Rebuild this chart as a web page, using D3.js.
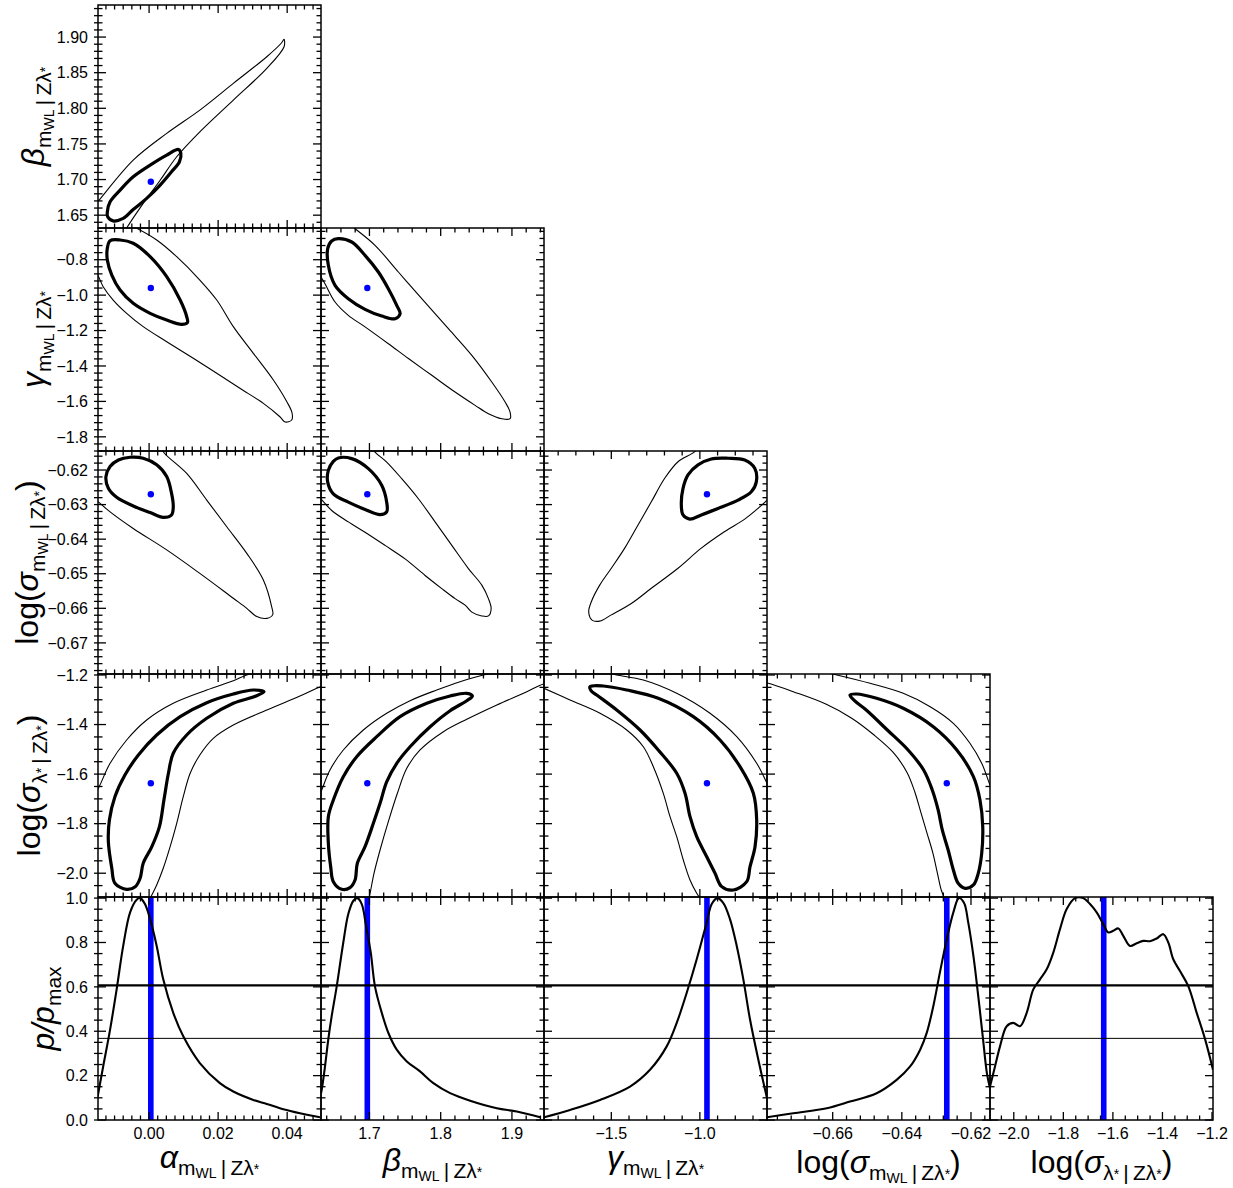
<!DOCTYPE html>
<html><head><meta charset="utf-8">
<script src="https://cdn.jsdelivr.net/npm/d3@7"></script>
<style>body{margin:0;background:#fff}svg{display:block}text{font-family:"Liberation Sans",Arial,sans-serif}</style>
</head><body>
<script>
// ---------- axis ranges ----------
const domA = [-0.0148, 0.0498];
const domB = [1.632, 1.945];
const domG = [-1.88, -0.621];
const domSM = [-0.679, -0.6145];
const domSL = [-2.096, -1.196];
const domP = [0, 1.005];

// ---------- true values (blue) ----------
const trueValues = [0.0005, 1.697, -0.96, -0.627, -1.637];
// likelihood levels for 1D panels
const levels = [0.6065, 0.3679];

// ---------- ticks ----------
const xTicksA = [0, 0.02, 0.04], xTickTextA = ["0.00", "0.02", "0.04"];
const xTicksB = [1.7, 1.8, 1.9], xTickTextB = ["1.7", "1.8", "1.9"];
const xTicksG = [-1.5, -1.0], xTickTextG = ["\u22121.5", "\u22121.0"];
const xTicksSM = [-0.66, -0.64, -0.62], xTickTextSM = ["\u22120.66", "\u22120.64", "\u22120.62"];
const xTicksSL = [-2.0, -1.8, -1.6, -1.4, -1.2], xTickTextSL = ["\u22122.0", "\u22121.8", "\u22121.6", "\u22121.4", "\u22121.2"];
const yTicksB = [1.65, 1.70, 1.75, 1.80, 1.85, 1.90], yTickTextB = ["1.65", "1.70", "1.75", "1.80", "1.85", "1.90"];
const yTicksG = [-0.8, -1.0, -1.2, -1.4, -1.6, -1.8], yTickTextG = ["\u22120.8", "\u22121.0", "\u22121.2", "\u22121.4", "\u22121.6", "\u22121.8"];
const yTicksSM = [-0.62, -0.63, -0.64, -0.65, -0.66, -0.67], yTickTextSM = ["\u22120.62", "\u22120.63", "\u22120.64", "\u22120.65", "\u22120.66", "\u22120.67"];
const yTicksSL = [-1.2, -1.4, -1.6, -1.8, -2.0], yTickTextSL = ["\u22121.2", "\u22121.4", "\u22121.6", "\u22121.8", "\u22122.0"];
const yTicksP = [0, 0.2, 0.4, 0.6, 0.8, 1.0], yTickTextP = ["0.0", "0.2", "0.4", "0.6", "0.8", "1.0"];
const xMinorSteps = [0.0025, 0.02, 0.1, 0.004, 0.05];
const yMinorSteps = [0.01, 0.04, 0.002, 0.05, 0.05];

// ---------- 2D contours (x, y) ----------
// beta vs alpha
const cBA_in = [[-0.0121,1.6547],[-0.0113,1.6687],[-0.0084,1.6852],[-0.0046,1.7039],[0.0003,1.7203],[0.0051,1.7343],[0.0085,1.7423],[0.0092,1.7367],[0.0088,1.725],[0.0065,1.7109],[0.0032,1.6922],[-0.0007,1.6735],[-0.0046,1.658],[-0.0075,1.6454],[-0.0104,1.642],[-0.012,1.6477]];
const cBA_out = [[-0.017,1.657],[-0.0149,1.6687],[-0.0046,1.7273],[0.0051,1.7648],[0.0147,1.7975],[0.0244,1.835],[0.0341,1.8724],[0.0384,1.892],[0.0391,1.8968],[0.0391,1.8864],[0.0341,1.856],[0.0244,1.8116],[0.0147,1.767],[0.0080,1.732],[0.0032,1.699],[-0.0017,1.6665],[-0.0065,1.632],[-0.0080,1.620]];
// gamma vs alpha
const cGA_in = [[-0.0113,-0.6927],[-0.0084,-0.6888],[-0.0046,-0.7074],[0.0003,-0.783],[0.0051,-0.896],[0.0090,-1.0276],[0.0109,-1.122],[0.0111,-1.1557],[0.0094,-1.1648],[0.0051,-1.1405],[0.0003,-1.1027],[-0.0046,-1.0462],[-0.0084,-0.971],[-0.0108,-0.8864],[-0.0121,-0.8017],[-0.0121,-0.7356]];
const cGA_out = [[-0.0062,-0.60],[-0.0036,-0.6227],[0.0022,-0.6888],[0.0080,-0.783],[0.0147,-0.9146],[0.0196,-1.0276],[0.0244,-1.178],[0.0302,-1.3285],[0.0360,-1.4793],[0.0399,-1.6018],[0.0414,-1.664],[0.0413,-1.7051],[0.0394,-1.7164],[0.0379,-1.6865],[0.0331,-1.6109],[0.0263,-1.5262],[0.0196,-1.4415],[0.0128,-1.3568],[0.0051,-1.263],[-0.0017,-1.178],[-0.0065,-1.1027],[-0.0104,-1.0276],[-0.0133,-0.9524],[-0.0149,-0.8864],[-0.017,-0.84]];
// sigma_m vs alpha
const cSA_in = [[-0.0055,-0.6163],[-0.0017,-0.6166],[0.0022,-0.6185],[0.0051,-0.6219],[0.0065,-0.6267],[0.0070,-0.6306],[0.0065,-0.633],[0.0041,-0.6337],[0.0003,-0.6323],[-0.0046,-0.6304],[-0.0094,-0.6279],[-0.0118,-0.6253],[-0.0125,-0.6219],[-0.0113,-0.619],[-0.0089,-0.6171]];
const cSA_out = [[0.0030,-0.612],[0.0041,-0.6147],[0.0109,-0.621],[0.0167,-0.6287],[0.0225,-0.6364],[0.0283,-0.6441],[0.0331,-0.6518],[0.0355,-0.6595],[0.0358,-0.6619],[0.0341,-0.6629],[0.0312,-0.6624],[0.0283,-0.66],[0.0244,-0.6571],[0.0147,-0.6499],[0.0051,-0.6431],[-0.0046,-0.6369],[-0.0113,-0.6321],[-0.0147,-0.6292],[-0.017,-0.6275]];
// sigma_lambda vs alpha
const cLA_in = [[-0.0065,-2.0649],[-0.0099,-2.0407],[-0.0108,-1.98],[-0.0118,-1.8727],[-0.0115,-1.785],[-0.0099,-1.6912],[-0.007,-1.6036],[-0.0031,-1.5229],[0.0022,-1.4422],[0.0090,-1.3683],[0.0167,-1.3118],[0.0244,-1.2767],[0.0302,-1.2606],[0.0333,-1.2674],[0.031,-1.2848],[0.0244,-1.3142],[0.0167,-1.3748],[0.0109,-1.4422],[0.0070,-1.516],[0.0056,-1.5967],[0.0043,-1.7045],[0.0030,-1.8122],[0.0008,-1.8929],[-0.0017,-1.9598],[-0.0026,-2.0203],[-0.004,-2.0542]];
const cLA_outA = [[-0.017,-1.71],[-0.0147,-1.6573],[-0.0113,-1.5564],[-0.0065,-1.4623],[-0.0007,-1.3816],[0.0070,-1.3142],[0.0167,-1.2606],[0.0244,-1.223],[0.0283,-1.2],[0.032,-1.185]];
const cLA_outB = [[0.052,-1.238],[0.0497,-1.2472],[0.0437,-1.2848],[0.0341,-1.3413],[0.0244,-1.4018],[0.0186,-1.4556],[0.0147,-1.5229],[0.0119,-1.5967],[0.0099,-1.6912],[0.0080,-1.7985],[0.0061,-1.8929],[0.0041,-1.98],[0.0022,-2.0475],[0.0008,-2.0878],[0.0,-2.11]];
// gamma vs beta
const cGB_in = [[1.6563,-0.6814],[1.6751,-0.7001],[1.6938,-0.7752],[1.7125,-0.8694],[1.7265,-0.9637],[1.7383,-1.0575],[1.743,-1.105],[1.7359,-1.1331],[1.7173,-1.1179],[1.6938,-1.08],[1.6703,-1.0202],[1.6517,-0.9446],[1.6423,-0.8316],[1.6414,-0.7379],[1.647,-0.6944]];
const cGB_out = [[1.672,-0.60],[1.6798,-0.625],[1.7078,-0.7187],[1.7406,-0.8694],[1.7734,-1.0202],[1.8108,-1.1896],[1.8437,-1.3398],[1.8717,-1.4906],[1.8904,-1.6035],[1.8974,-1.66],[1.8974,-1.6978],[1.8858,-1.6978],[1.867,-1.6695],[1.8483,-1.6222],[1.8202,-1.5471],[1.7875,-1.4527],[1.7547,-1.358],[1.7266,-1.2743],[1.6938,-1.179],[1.6703,-1.1139],[1.6517,-1.0388],[1.6376,-0.9355],[1.632,-0.8977],[1.626,-0.87]];
// sigma_m vs beta
const cSB_in = [[1.6563,-0.6165],[1.6751,-0.6167],[1.6985,-0.6196],[1.7172,-0.6244],[1.7242,-0.6293],[1.7242,-0.6321],[1.7149,-0.6329],[1.6938,-0.6314],[1.6703,-0.6293],[1.6493,-0.6269],[1.6414,-0.6235],[1.6423,-0.6201],[1.6493,-0.6175]];
const cSB_out = [[1.70,-0.6125],[1.7078,-0.6148],[1.7242,-0.6177],[1.7453,-0.6225],[1.7687,-0.6283],[1.7921,-0.635],[1.8156,-0.6418],[1.8389,-0.6485],[1.8577,-0.6533],[1.867,-0.6572],[1.8708,-0.6601],[1.867,-0.6622],[1.8577,-0.6622],[1.8437,-0.6611],[1.8343,-0.6591],[1.8202,-0.6572],[1.8015,-0.6543],[1.7781,-0.6505],[1.75,-0.6457],[1.7219,-0.6418],[1.6938,-0.638],[1.6703,-0.635],[1.647,-0.6317],[1.6338,-0.6288],[1.625,-0.627]];
// sigma_lambda vs beta
const cLB_in = [[1.6611,-2.0649],[1.6493,-2.0342],[1.6456,-1.9736],[1.6423,-1.8792],[1.6423,-1.7719],[1.6493,-1.7045],[1.6633,-1.6104],[1.6821,-1.5297],[1.7102,-1.449],[1.743,-1.3683],[1.7805,-1.3142],[1.8132,-1.2848],[1.8366,-1.2739],[1.8445,-1.2848],[1.8366,-1.3038],[1.8132,-1.3441],[1.7852,-1.4087],[1.757,-1.4894],[1.7383,-1.5564],[1.7243,-1.6306],[1.7149,-1.7178],[1.7055,-1.7985],[1.6938,-1.8929],[1.683,-1.9598],[1.6798,-2.0273],[1.6727,-2.0582]];
const cLB_outA = [[1.628,-1.70],[1.633,-1.6641],[1.6446,-1.5834],[1.6633,-1.5027],[1.6914,-1.422],[1.7242,-1.3546],[1.757,-1.3037],[1.7945,-1.2606],[1.8272,-1.227],[1.86,-1.2],[1.88,-1.19]];
const cLB_outB = [[1.955,-1.23],[1.9442,-1.2364],[1.9209,-1.2674],[1.8788,-1.3211],[1.8366,-1.3788],[1.8038,-1.4288],[1.771,-1.5027],[1.7524,-1.5766],[1.7392,-1.6775],[1.7265,-1.792],[1.7149,-1.9063],[1.7064,-2.0005],[1.7018,-2.0677],[1.6998,-2.097],[1.699,-2.11]];
// sigma_m vs gamma
const cSG_in = [[-0.841,-0.6166],[-0.7468,-0.6171],[-0.6903,-0.6195],[-0.6812,-0.6234],[-0.7095,-0.6263],[-0.7846,-0.6287],[-0.8975,-0.6311],[-0.9918,-0.633],[-1.0573,-0.6342],[-1.0951,-0.633],[-1.1047,-0.6301],[-1.0951,-0.6253],[-1.0669,-0.6214],[-1.0104,-0.6185],[-0.9353,-0.6168]];
const cSG_out = [[-1.00,-0.6125],[-1.0291,-0.6147],[-1.1234,-0.6176],[-1.1985,-0.6224],[-1.2741,-0.6292],[-1.3492,-0.6359],[-1.4243,-0.6426],[-1.4999,-0.6484],[-1.5655,-0.6533],[-1.6128,-0.6581],[-1.6276,-0.661],[-1.609,-0.6634],[-1.5655,-0.6637],[-1.4999,-0.6619],[-1.3871,-0.6586],[-1.2741,-0.6542],[-1.1234,-0.6484],[-0.9918,-0.6426],[-0.8597,-0.6378],[-0.7468,-0.6342],[-0.6716,-0.6311],[-0.6208,-0.6287],[-0.59,-0.627]];
// sigma_lambda vs gamma
const cLG_in = [[-1.6203,-1.2472],[-1.5452,-1.2444],[-1.413,-1.2606],[-1.235,-1.294],[-1.037,-1.3683],[-0.8862,-1.4623],[-0.7733,-1.5701],[-0.6981,-1.6775],[-0.6793,-1.7852],[-0.6886,-1.8929],[-0.7168,-1.9736],[-0.7356,-2.0342],[-0.8109,-2.0677],[-0.8766,-2.0542],[-0.9144,-2.0005],[-0.9613,-1.9332],[-1.0178,-1.8525],[-1.0556,-1.7719],[-1.0838,-1.6775],[-1.1307,-1.5967],[-1.235,-1.5027],[-1.3379,-1.422],[-1.4695,-1.3413],[-1.5824,-1.2808],[-1.6146,-1.2634]];
const cLG_outA = [[-1.53,-1.19],[-1.4695,-1.2],[-1.3193,-1.2202],[-1.1307,-1.2739],[-0.9427,-1.3546],[-0.7919,-1.449],[-0.6793,-1.5564],[-0.6208,-1.6371],[-0.60,-1.67]];
const cLG_outB = [[-1.92,-1.24],[-1.88,-1.2537],[-1.7332,-1.3009],[-1.5638,-1.3546],[-1.413,-1.422],[-1.3193,-1.4894],[-1.2628,-1.5701],[-1.2064,-1.6775],[-1.1685,-1.7719],[-1.1307,-1.8525],[-1.0934,-1.9466],[-1.0556,-2.0273],[-1.0178,-2.081],[-0.9991,-2.1012],[-0.99,-2.115]];
// sigma_lambda vs sigma_m
const cLS_in = [[-0.655,-1.2808],[-0.6531,-1.2767],[-0.6473,-1.2941],[-0.6396,-1.3344],[-0.6309,-1.4087],[-0.6241,-1.5027],[-0.6193,-1.6104],[-0.6174,-1.7045],[-0.6166,-1.8122],[-0.6169,-1.9198],[-0.6179,-2.0005],[-0.6193,-2.0475],[-0.6217,-2.0609],[-0.6237,-2.0407],[-0.6251,-1.987],[-0.6266,-1.9063],[-0.6283,-1.8255],[-0.6295,-1.7448],[-0.6312,-1.6641],[-0.6337,-1.5834],[-0.6382,-1.5027],[-0.6442,-1.422],[-0.6503,-1.3413],[-0.6537,-1.3037]];
const cLS_outA = [[-0.662,-1.19],[-0.6588,-1.2],[-0.6492,-1.2335],[-0.6396,-1.2739],[-0.6318,-1.328],[-0.6251,-1.395],[-0.6203,-1.4757],[-0.6169,-1.5564],[-0.6145,-1.644],[-0.613,-1.69]];
const cLS_outB = [[-0.681,-1.227],[-0.6786,-1.2335],[-0.6714,-1.2674],[-0.662,-1.3172],[-0.6545,-1.3743],[-0.6482,-1.4403],[-0.6425,-1.5127],[-0.6385,-1.5934],[-0.6362,-1.6741],[-0.6345,-1.7548],[-0.6327,-1.839],[-0.631,-1.9198],[-0.6297,-2.0005],[-0.6286,-2.0677],[-0.6276,-2.1012],[-0.627,-2.115]];

// ---------- 1D marginals (x, p/pmax) ----------
const margA = [[-0.0149,0.1055],[-0.0133,0.2413],[-0.0113,0.4074],[-0.0094,0.5885],[-0.0075,0.7845],[-0.0055,0.9357],[-0.0036,0.9928],[-0.0026,1.0],[-0.0012,0.9733],[0.0003,0.9054],[0.0022,0.7845],[0.0041,0.6338],[0.007,0.483],[0.0099,0.3771],[0.0147,0.2567],[0.0205,0.1661],[0.0244,0.1283],[0.0302,0.0905],[0.0341,0.0724],[0.0389,0.0484],[0.0437,0.0303],[0.0495,0.0122]];
const margB = [[1.632,0.12],[1.633,0.136],[1.6376,0.241],[1.6423,0.365],[1.647,0.468],[1.654,0.601],[1.6633,0.80],[1.6703,0.928],[1.6774,0.988],[1.683,1.0],[1.6892,0.973],[1.6952,0.875],[1.7018,0.755],[1.7078,0.601],[1.7173,0.483],[1.7266,0.392],[1.7383,0.317],[1.7524,0.264],[1.771,0.219],[1.7897,0.166],[1.8132,0.121],[1.8413,0.087],[1.8788,0.053],[1.9068,0.038],[1.9396,0.012]];
const margG = [[-1.88,0.0122],[-1.7332,0.0453],[-1.5638,0.0905],[-1.3944,0.1507],[-1.2815,0.2263],[-1.1872,0.3318],[-1.1307,0.4377],[-1.0742,0.5736],[-1.0178,0.7243],[-0.9613,0.8905],[-0.9331,0.9733],[-0.9014,1.0],[-0.8675,0.9778],[-0.83,0.9054],[-0.7919,0.7845],[-0.7546,0.6338],[-0.7168,0.4527],[-0.6699,0.2716],[-0.6208,0.0982]];
const margSM = [[-0.679,0.0122],[-0.6714,0.0303],[-0.6617,0.053],[-0.655,0.083],[-0.6473,0.1207],[-0.6415,0.1811],[-0.6376,0.2413],[-0.6347,0.3169],[-0.6328,0.3925],[-0.6309,0.5129],[-0.629,0.6641],[-0.627,0.8149],[-0.6251,0.9357],[-0.6235,1.0],[-0.622,0.9778],[-0.6208,0.8905],[-0.6193,0.7393],[-0.6179,0.5582],[-0.6166,0.3771],[-0.6154,0.2114],[-0.6145,0.1435]];
const margSL = [[-2.096,0.1507],[-2.0758,0.2413],[-2.0556,0.3318],[-2.0286,0.4224],[-2.002,0.4377],[-1.9749,0.4224],[-1.9479,0.483],[-1.9213,0.5885],[-1.8942,0.6338],[-1.8672,0.679],[-1.8405,0.7546],[-1.8135,0.8601],[-1.7865,0.9507],[-1.753,1.0],[-1.7195,1.0],[-1.6924,0.9733],[-1.6654,0.9357],[-1.6388,0.8828],[-1.6186,0.8452],[-1.5984,0.8525],[-1.5782,0.8633],[-1.5581,0.8298],[-1.531,0.7845],[-1.504,0.7967],[-1.4774,0.8072],[-1.4503,0.8058],[-1.4233,0.818],[-1.3966,0.8375],[-1.3764,0.7999],[-1.3563,0.7243],[-1.3293,0.6713],[-1.2958,0.6034],[-1.2618,0.483],[-1.2275,0.3622],[-1.196,0.2263]];

// ---------- build ----------
const W = 1233, H = 1188, X0 = 98, Y0 = 5, S = 223;
const domains = [domA, domB, domG, domSM, domSL];
const xTicks = [[xTicksA, xTickTextA], [xTicksB, xTickTextB], [xTicksG, xTickTextG], [xTicksSM, xTickTextSM], [xTicksSL, xTickTextSL]];
const yTicks = [[yTicksB, yTickTextB], [yTicksG, yTickTextG], [yTicksSM, yTickTextSM], [yTicksSL, yTickTextSL], [yTicksP, yTickTextP]];
const yDomains = [domB, domG, domSM, domSL, domP];

const xs = domains.map((d, c) => d3.scaleLinear().domain(d).range([X0 + c * S, X0 + (c + 1) * S]));
const ys = yDomains.map((d, r) => d3.scaleLinear().domain(d).range([Y0 + (r + 1) * S, Y0 + r * S]));

const panels2D = [
  {r: 0, c: 0, inner: cBA_in, outer: [cBA_out]},
  {r: 1, c: 0, inner: cGA_in, outer: [cGA_out]},
  {r: 1, c: 1, inner: cGB_in, outer: [cGB_out]},
  {r: 2, c: 0, inner: cSA_in, outer: [cSA_out]},
  {r: 2, c: 1, inner: cSB_in, outer: [cSB_out]},
  {r: 2, c: 2, inner: cSG_in, outer: [cSG_out]},
  {r: 3, c: 0, inner: cLA_in, outer: [cLA_outA, cLA_outB]},
  {r: 3, c: 1, inner: cLB_in, outer: [cLB_outA, cLB_outB]},
  {r: 3, c: 2, inner: cLG_in, outer: [cLG_outA, cLG_outB]},
  {r: 3, c: 3, inner: cLS_in, outer: [cLS_outA, cLS_outB]}
];
const margs = [margA, margB, margG, margSM, margSL];

const svg = d3.select("body").append("svg").attr("width", W).attr("height", H);
const defs = svg.append("defs");
const allPanels = [];
for (let r = 0; r < 5; r++) for (let c = 0; c <= r; c++) allPanels.push({r, c});
allPanels.forEach(p => {
  defs.append("clipPath").attr("id", `clip${p.r}${p.c}`)
    .append("rect").attr("x", X0 + p.c * S).attr("y", Y0 + p.r * S).attr("width", S).attr("height", S);
});

const lineGen = (x, y, curve) => d3.line().x(d => x(d[0])).y(d => y(d[1])).curve(curve);

// 2D panels
panels2D.forEach(p => {
  const x = xs[p.c], y = ys[p.r];
  const g = svg.append("g").attr("clip-path", `url(#clip${p.r}${p.c})`);
  p.outer.forEach(seg => {
    g.append("path").attr("d", lineGen(x, y, d3.curveCatmullRom.alpha(0.5))(seg))
      .attr("fill", "none").attr("stroke", "#000").attr("stroke-width", 1.1);
  });
  g.append("path").attr("d", lineGen(x, y, d3.curveCatmullRomClosed.alpha(0.5))(p.inner))
    .attr("fill", "none").attr("stroke", "#000").attr("stroke-width", 3.2).attr("stroke-linejoin", "round");
  g.append("circle").attr("cx", x(trueValues[p.c])).attr("cy", y(trueValues[p.r + 1])).attr("r", 3.2).attr("fill", "#0000ff");
});

// 1D panels
const yP = ys[4];
margs.forEach((m, c) => {
  const x = xs[c];
  const g = svg.append("g").attr("clip-path", `url(#clip4${c})`);
  g.append("rect").attr("x", x(trueValues[c]) - 2.8).attr("y", Y0 + 4 * S).attr("width", 5.6).attr("height", S).attr("fill", "#0000ff");
  g.append("path").attr("d", lineGen(x, yP, d3.curveCatmullRom.alpha(0.5))(m))
    .attr("fill", "none").attr("stroke", "#000").attr("stroke-width", 2.1);
});
svg.append("line").attr("x1", X0).attr("x2", X0 + 5 * S).attr("y1", yP(levels[0])).attr("y2", yP(levels[0])).attr("stroke", "#000").attr("stroke-width", 2.2);
svg.append("line").attr("x1", X0).attr("x2", X0 + 5 * S).attr("y1", yP(levels[1])).attr("y2", yP(levels[1])).attr("stroke", "#000").attr("stroke-width", 1);

// frames and ticks
function minorVals(dom, step, majors) {
  const lo = Math.min(dom[0], dom[1]), hi = Math.max(dom[0], dom[1]);
  const out = [];
  for (let k = Math.ceil(lo / step - 1e-6); k * step <= hi + 1e-9; k++) {
    const v = k * step;
    if (!majors.some(m => Math.abs(m - v) < step * 0.1)) out.push(v);
  }
  return out;
}
const MAJ = 8, MIN = 4.5;
allPanels.forEach(p => {
  const x = xs[p.c], y = ys[p.r];
  const x0 = X0 + p.c * S, x1 = x0 + S, y0 = Y0 + p.r * S, y1 = y0 + S;
  const g = svg.append("g").attr("stroke", "#000").attr("stroke-width", 1.3);
  const xm = xTicks[p.c][0], xn = minorVals(domains[p.c], xMinorSteps[p.c], xm);
  const ym = yTicks[p.r][0], yn = minorVals(yDomains[p.r], yMinorSteps[p.r], ym);
  const tk = (vals, len) => {
    vals.forEach(v => {
      const px = x(v);
      g.append("line").attr("x1", px).attr("x2", px).attr("y1", y1).attr("y2", y1 - len);
      g.append("line").attr("x1", px).attr("x2", px).attr("y1", y0).attr("y2", y0 + len);
    });
  };
  const tky = (vals, len) => {
    vals.forEach(v => {
      const py = y(v);
      g.append("line").attr("y1", py).attr("y2", py).attr("x1", x0 - (p.c === 0 ? 4 : 0)).attr("x2", x0 + len);
      g.append("line").attr("y1", py).attr("y2", py).attr("x1", x1).attr("x2", x1 - len);
    });
  };
  tk(xm, MAJ); tk(xn, MIN); tky(ym, MAJ); tky(yn, MIN);
  g.append("rect").attr("x", x0).attr("y", y0).attr("width", S).attr("height", S).attr("fill", "none").attr("stroke-width", 1.5);
});

// tick labels
for (let r = 0; r < 5; r++) {
  const [vals, txt] = yTicks[r];
  vals.forEach((v, i) => {
    svg.append("text").attr("x", 88).attr("y", ys[r](v)).attr("dy", "0.36em").attr("text-anchor", "end")
      .attr("font-size", 16).text(txt[i]);
  });
}
for (let c = 0; c < 5; c++) {
  const [vals, txt] = xTicks[c];
  vals.forEach((v, i) => {
    svg.append("text").attr("x", xs[c](v)).attr("y", 1139).attr("text-anchor", "middle")
      .attr("font-size", 16).text(txt[i]);
  });
}

// axis labels
const sp = "\u2009|\u2009Z\u03bb";
const labA = [{t: "\u03b1", s: 32, it: 1}, {t: "m", s: 21, dy: 7}, {t: "WL", s: 14, dy: 3}, {t: sp, s: 21, dy: -3}, {t: "*", s: 14, dy: -1}];
const labB = [{t: "\u03b2", s: 32, it: 1}, {t: "m", s: 21, dy: 7}, {t: "WL", s: 14, dy: 3}, {t: sp, s: 21, dy: -3}, {t: "*", s: 14, dy: -1}];
const labG = [{t: "\u03b3", s: 32, it: 1}, {t: "m", s: 21, dy: 7}, {t: "WL", s: 14, dy: 3}, {t: sp, s: 21, dy: -3}, {t: "*", s: 14, dy: -1}];
const labSM = [{t: "log(", s: 32}, {t: "\u03c3", s: 32, it: 1}, {t: "m", s: 21, dy: 7}, {t: "WL", s: 14, dy: 3}, {t: sp, s: 21, dy: -3}, {t: "*", s: 14, dy: -1}, {t: ")", s: 32, dy: -6}];
const labSL = [{t: "log(", s: 32}, {t: "\u03c3", s: 32, it: 1}, {t: "\u03bb", s: 21, dy: 7}, {t: "*", s: 14, dy: -1}, {t: sp, s: 21, dy: 1}, {t: "*", s: 14, dy: -1}, {t: ")", s: 32, dy: -6}];
const labP = [{t: "p/p", s: 32, it: 1}, {t: "max", s: 21, dy: 7}];

function rich(parts, transform) {
  const t = svg.append("text").attr("transform", transform).attr("text-anchor", "middle").style("white-space", "pre");
  parts.forEach(p => {
    const ts = t.append("tspan").attr("font-size", p.s).text(p.t);
    if (p.dy) ts.attr("dy", p.dy);
    if (p.it) ts.attr("font-style", "italic");
  });
  return t;
}
const xLabs = [labA, labB, labG, labSM, labSL];
const xBase = [1168, 1171, 1168, 1173, 1173];
xLabs.forEach((l, c) => rich(l, `translate(${X0 + c * S + S / 2},${xBase[c]})`));
const yLabs = [labB, labG, labSM, labSL, labP];
const yBase = [44, 44, 38, 40, 54];
yLabs.forEach((l, r) => rich(l, `translate(${yBase[r]},${Y0 + r * S + S / 2}) rotate(-90)`));
</script>
</body></html>
